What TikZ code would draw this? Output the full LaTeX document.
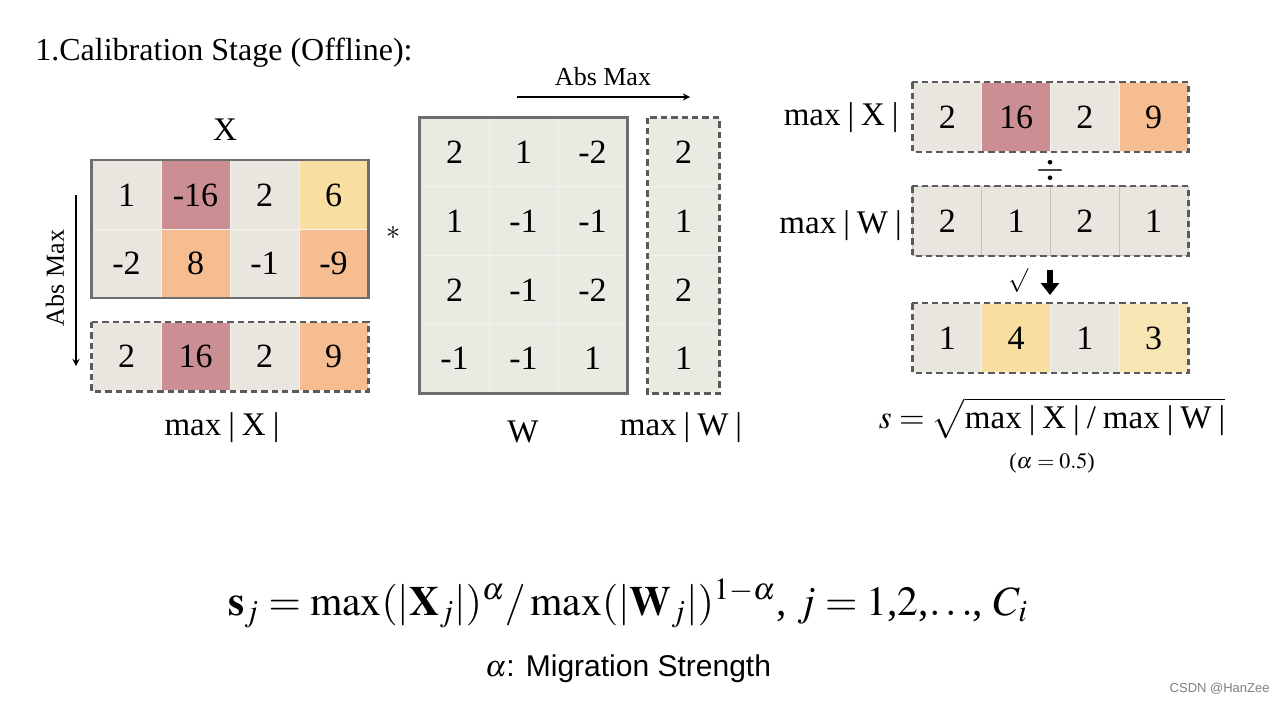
\documentclass[tikz,border=0pt]{standalone}
\usepackage{mathptmx}
\usepackage{fontspec}
\setmainfont{Liberation Serif}
\newfontfamily\labelsans{Liberation Sans}
\usetikzlibrary{arrows.meta}

\definecolor{cgray}{RGB}{233,230,223}
\definecolor{cwgray}{RGB}{235,234,226}
\definecolor{crose}{RGB}{203,143,147}
\definecolor{cpeach}{RGB}{246,190,144}
\definecolor{cyellow}{RGB}{249,222,162}
\definecolor{cpale}{RGB}{248,229,180}
\definecolor{cline}{RGB}{244,242,238}
\definecolor{cframe}{RGB}{110,110,110}
\definecolor{cdash}{RGB}{90,90,90}

\newcommand\cellfont{\fontsize{17}{20}\selectfont}
\newcommand\labfont{\fontsize{16.5}{19}\selectfont}
\newcommand\bsp{\kern3.5pt}

\tikzset{
  cell/.style={fill=cgray, draw=cline, line width=0.5pt, minimum width=34.5pt,
    minimum height=34.3pt, inner sep=0pt, font=\cellfont},
  solidframe/.style={draw=cframe, line width=1.1pt},
  dashframe/.style={draw=cdash, line width=1.2pt, dash pattern=on 3.2pt off 2pt},
  lab/.style={font=\labfont, inner sep=0pt}
}

\begin{document}
\begin{tikzpicture}[x=0.5pt, y=-0.5pt, >=stealth]
 \useasboundingbox[fill=white] (0,0) rectangle (1284,702);

 % title
 \node[lab, anchor=base west, font=\fontsize{16}{19}\selectfont] (title) at (35,60) {1.Calibration Stage (Offline):};

 % X and its column maxima
 \foreach \v/\c [count=\i] in {1/cgray,-16/crose,2/cgray,6/cyellow}
   \node[cell, fill=\c] (xa\i) at ({92+69*(\i-0.5)},195) {\v};
 \foreach \v/\c [count=\i] in {-2/cgray,8/cpeach,-1/cgray,-9/cpeach}
   \node[cell, fill=\c] (xb\i) at ({92+69*(\i-0.5)},263.5) {\v};
 \draw[solidframe] (xa1.north west) rectangle (xb4.south east);
 \foreach \v/\c [count=\i] in {2/cgray,16/crose,2/cgray,9/cpeach}
   \node[cell, fill=\c] (mx\i) at ({92+69*(\i-0.5)},356.5) {\v};
 \draw[dashframe] (mx1.north west) rectangle (mx4.south east);
 \node[lab, anchor=base] (xname) at (225,140) {X};
 \node[lab, anchor=base] (mxname) at (222,435) {max\bsp|\bsp X\bsp|};

 \coordinate (vtop) at (76,195);
 \coordinate (vbot) at (76,366);
 \draw[->, line width=0.6pt] (vtop) -- (vbot);
 \node[lab, rotate=90, font=\fontsize{13}{15}\selectfont] (vabs) at (55,278) {Abs Max};

 \node[lab, font=\fontsize{14}{16}\selectfont] (times) at (393,233) {$*$};

 % W and its row maxima
 \foreach \r [count=\j] in {{2,1,-2},{1,-1,-1},{2,-1,-2},{-1,-1,1}}
   \foreach \v [count=\i] in \r
     \node[cell, fill=cwgray] (w\j\i) at ({420+69*(\i-0.5)},{118+68.75*(\j-0.5)}) {\v};
 \draw[solidframe] (w11.north west) rectangle (w43.south east);
 \foreach \v [count=\j] in {2,1,2,1}
   \node[cell, fill=cwgray, minimum width=35.5pt] (mw\j) at (683.5,{118+68.75*(\j-0.5)}) {\v};
 \draw[dashframe] (mw1.north west) rectangle (mw4.south east);
 \node[lab, anchor=base] (wname) at (523,442) {W};
 \node[lab, anchor=base] (mwname) at (681,435) {max\bsp|\bsp W\bsp|};

 \coordinate (hleft) at (517,97);
 \coordinate (hright) at (690,97);
 \draw[->, line width=0.6pt] (hleft) -- (hright);
 \node[lab, anchor=base, font=\fontsize{13}{15}\selectfont] (habs) at (603,85) {Abs Max};

 % smoothing factor
 \foreach \v/\c [count=\i] in {2/cgray,16/crose,2/cgray,9/cpeach}
   \node[cell, fill=\c] (ra\i) at ({913+68.75*(\i-0.5)},117) {\v};
 \draw[dashframe] (ra1.north west) rectangle (ra4.south east);
 \foreach \v [count=\i] in {2,1,2,1}
   \node[cell, fill=cgray, draw=cgray!85!black] (rb\i) at ({913+68.75*(\i-0.5)},221) {\v};
 \draw[dashframe] (rb1.north west) rectangle (rb4.south east);
 \foreach \v/\c [count=\i] in {1/cgray,4/cyellow,1/cgray,3/cpale}
   \node[cell, fill=\c] (rc\i) at ({913+68.75*(\i-0.5)},338) {\v};
 \draw[dashframe] (rc1.north west) rectangle (rc4.south east);

 \node[lab, anchor=base east] (ralab) at (899,125) {max\bsp|\bsp X\bsp|};
 \node[lab, anchor=base east] (rblab) at (902,233) {max\bsp|\bsp W\bsp|};
 \node[lab, font=\fontsize{18}{20}\selectfont] (divide) at (1050,170) {$\div$};
 \node[lab, font=\fontsize{12}{14}\selectfont] (root) at (1018,281) {$\surd$};
 \coordinate (dtop) at (1050,270);
 \coordinate (dbot) at (1050,295);
 \draw[-{Triangle[length=6pt,width=9pt]}, line width=2.8pt] (dtop) -- (dbot);

 \node[lab, anchor=base] (sform) at (1052,428)
   {$s=\sqrt{\mbox{max\bsp|\bsp X\bsp|\bsp/\bsp max\bsp|\bsp W\bsp|}}$};
 \node[lab, anchor=base, font=\fontsize{11}{13}\selectfont] (alpha) at (1052,468)
   {($\alpha=0.5$)};

 % general formula
 \node[lab, anchor=base, font=\fontsize{20.8}{24}\selectfont] (general) at (628,615)
   {$\mathbf{s}_j=\max(|\mathbf{X}_j|)^{\alpha}/\max(|\mathbf{W}_j|)^{1-\alpha}$, $j=1$,$2$,$\ldots$, $C_i$};
 \node[lab, anchor=base, font=\labelsans\fontsize{15}{18}\selectfont] (migr) at (628,676)
   {$\alpha$: Migration Strength};

 \node[lab, anchor=base east, text=gray, font=\labelsans\fontsize{6.5}{8}\selectfont] (mark) at (1270,692)
   {CSDN @HanZee};
\end{tikzpicture}
\end{document}
